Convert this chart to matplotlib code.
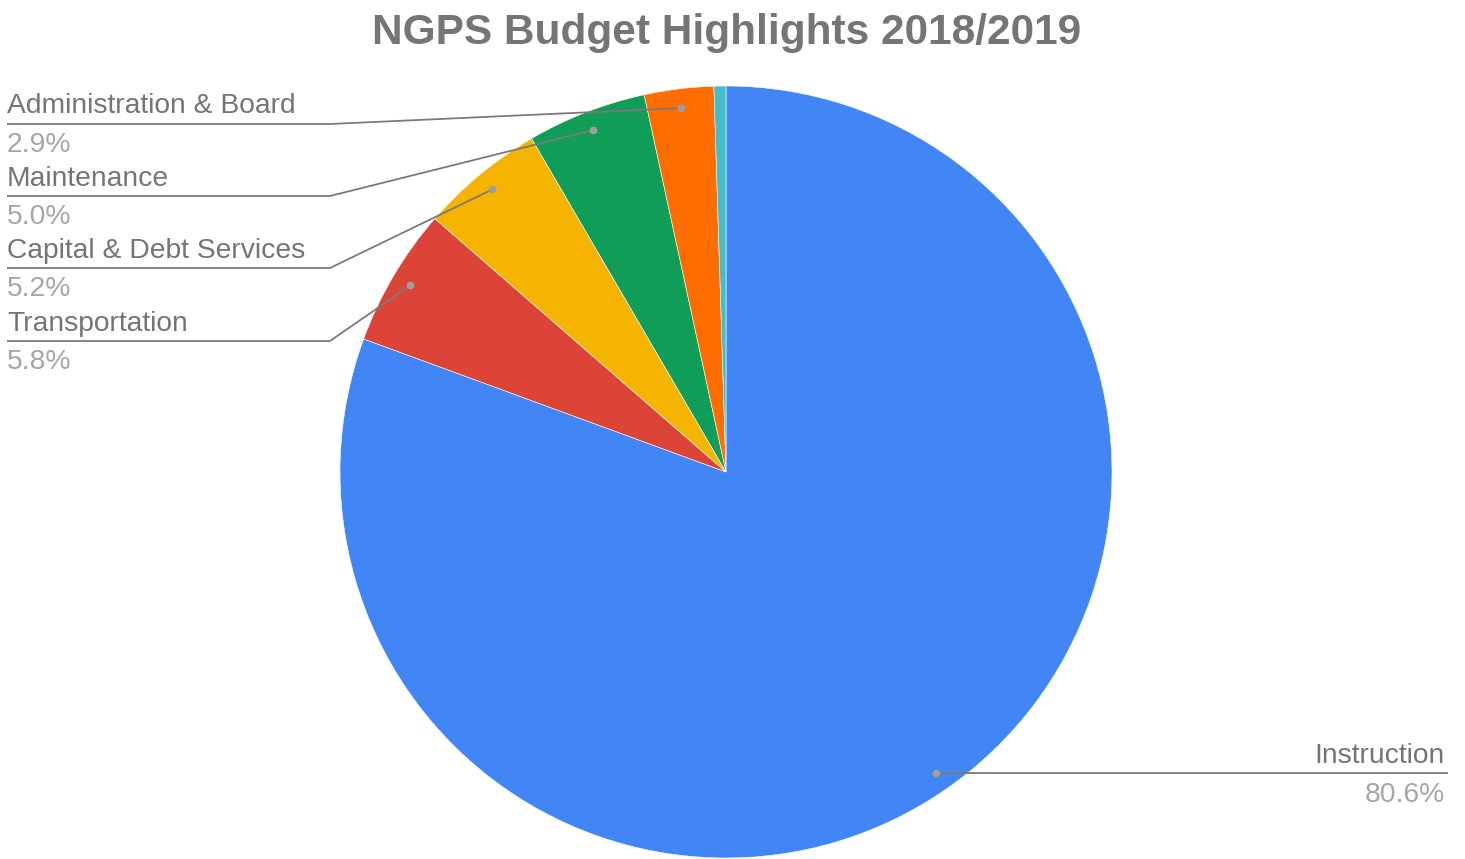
import numpy as np
import matplotlib
matplotlib.use("Agg")
import matplotlib.pyplot as plt

categories = ["Instruction", "Transportation", "Capital & Debt Services",
              "Maintenance", "Administration & Board", "Other"]
values = [80.6, 5.8, 5.2, 5.0, 2.9, 0.5]
colors = ["#4285F4", "#DB4437", "#F4B400", "#0F9D58", "#FF6D01", "#46BDC6"]
pct_labels = ["80.6%", "5.8%", "5.2%", "5.0%", "2.9%", None]

W, H = 1465, 859
fig = plt.figure(figsize=(W / 100, H / 100), dpi=100)
ax = fig.add_axes([0, 0, 1, 1])
ax.set_xlim(0, W)
ax.set_ylim(0, H)
ax.set_aspect("equal")
ax.axis("off")

cx, cy, R = 726, H - 472, 386
ax.pie(values, colors=colors, startangle=90, counterclock=False,
       center=(cx, cy), radius=R, frame=True,
       wedgeprops=dict(edgecolor="white", linewidth=0.4))
ax.set_xlim(0, W)
ax.set_ylim(0, H)
ax.axis("off")

fam = ["Liberation Sans", "DejaVu Sans"]
name_col = "#757575"
pct_col = "#a6a6a6"
line_col = "#7a7a7a"
fs = 20.3

# label layout (pixel rows from top): name row, underline row
left_layout = {
    "Administration & Board": (106, 124),
    "Maintenance": (179, 196),
    "Capital & Debt Services": (251, 268),
    "Transportation": (324, 341),
}

total = sum(values)
cum = 0.0
for name, v, pl in zip(categories, values, pct_labels):
    mid = (cum + v / 2) / total
    cum += v
    if pl is None:
        continue
    ang = np.deg2rad(90 - mid * 360)
    dx_, dy_ = cx + 0.95 * R * np.cos(ang), cy + 0.95 * R * np.sin(ang)
    if name in left_layout:
        ny, ly = left_layout[name]
        ax.plot([7, 330, dx_], [H - ly, H - ly, dy_], color=line_col, lw=1.3,
                solid_capstyle="butt", zorder=5)
        ax.text(7, H - ny, name, fontsize=fs, color=name_col, family=fam,
                ha="left", va="center")
        ax.text(7, H - ly - 21, pl, fontsize=fs, color=pct_col, family=fam,
                ha="left", va="center")
    else:
        ax.plot([dx_, 1447], [dy_, dy_], color=line_col, lw=1.3, zorder=5)
        ax.text(1445, dy_ + 17, name, fontsize=fs, color=name_col, family=fam,
                ha="right", va="center")
        ax.text(1445, dy_ - 22, pl, fontsize=fs, color=pct_col, family=fam,
                ha="right", va="center")
    ax.plot([dx_], [dy_], "o", ms=4.5, color="#9e9e9e", zorder=6)

fig.text(727 / W, 1 - 33 / H, "NGPS Budget Highlights 2018/2019",
         fontsize=30.5, fontweight="bold", color="#757575", family=fam,
         ha="center", va="center")

fig.savefig("out.png", dpi=100, facecolor="white")
